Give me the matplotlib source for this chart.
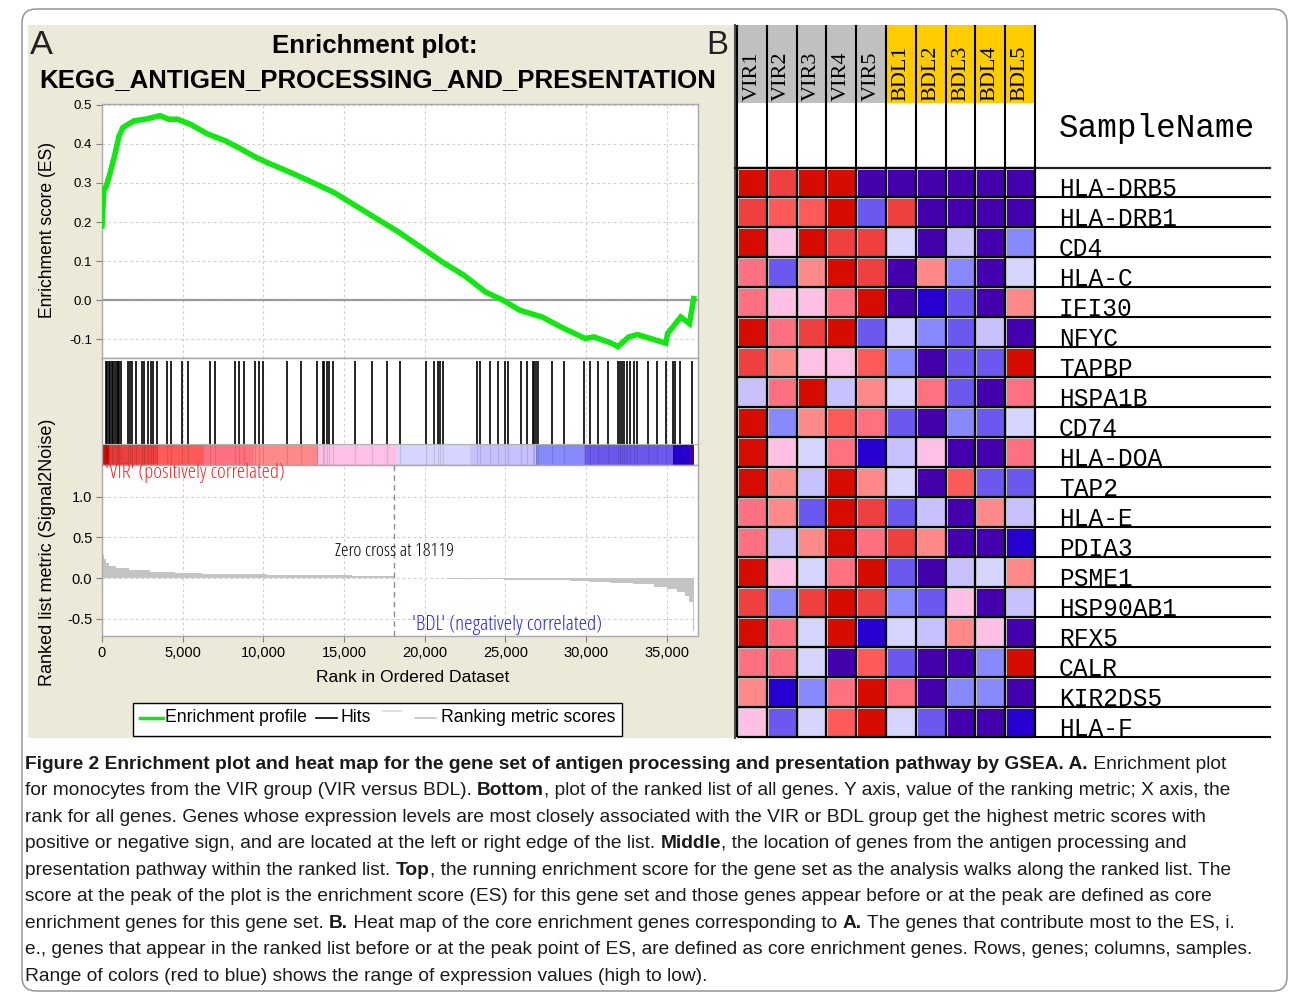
import numpy as np
import matplotlib
matplotlib.use('Agg')
import matplotlib.pyplot as plt
from matplotlib.colors import ListedColormap, BoundaryNorm
from matplotlib.patches import Rectangle, FancyBboxPatch
from matplotlib import font_manager as fm

# ---------------- data ----------------
total_genes = 36661
zero_cross = 18119

es_rank = [0, 120, 248, 514, 781, 1053, 1301, 1983, 2664, 3594, 4139, 4678, 5483, 6563, 7635,
           8428, 9518, 10188, 11669, 13013, 14358, 15703, 17041, 18392, 19736, 21069, 22419,
           23763, 24841, 25899, 27262, 28601, 29945, 30484, 31556, 31959, 32634, 33173, 33979,
           34920, 35050, 35856, 36395, 36661]
es_score = [0.19, 0.285, 0.29, 0.327, 0.37, 0.42, 0.442, 0.459, 0.463, 0.472, 0.463, 0.463, 0.45,
            0.425, 0.408, 0.391, 0.366, 0.353, 0.327, 0.302, 0.276, 0.242, 0.208, 0.174, 0.136,
            0.098, 0.064, 0.021, 0.0, -0.026, -0.043, -0.072, -0.098, -0.094, -0.11, -0.119,
            -0.094, -0.088, -0.098, -0.11, -0.085, -0.043, -0.06, 0.004]

hit_ranks = [248, 328, 415, 496, 601, 700, 806, 911, 973, 1053, 1159, 1592, 1735, 1877, 2107, 2460,
             2621, 2869, 3036, 3179, 3426, 4009, 4257, 4938, 5347, 6692, 7002, 8241, 8507, 8799,
             9480, 9746, 9957, 11444, 12312, 13303, 13675, 13756, 13923, 14084, 14332, 15676,
             16710, 17640, 18464, 20075, 20589, 20837, 20942, 21110, 23253, 23421, 24040, 24555,
             24970, 25174, 25961, 26314, 26686, 26785, 26890, 27033, 27863, 28625, 29883, 30236,
             30750, 31333, 31990, 32095, 32237, 32361, 32510, 32715, 32981, 33130, 33849, 34369,
             34946, 35361, 35503, 35813, 36538]

metric_rank = [0, 100, 250, 450, 850, 1650, 3000, 4500, 6200, 10200, 15500, 18119, 21400, 24900,
               27000, 29000, 30200, 31500, 32900, 34200, 35000, 35600, 36100, 36400, 36600, 36640,
               36661]
metric_val = [0.29, 0.24, 0.19, 0.15, 0.12, 0.10, 0.075, 0.065, 0.05, 0.04, 0.025, 0.0, -0.01,
              -0.02, -0.03, -0.04, -0.05, -0.06, -0.08, -0.11, -0.13, -0.17, -0.22, -0.30, -0.45,
              -0.65, -0.65]

# ranked-list colour bar: start rank of each segment and its level in the palette
bar_start = [0, 450, 3500, 6300, 9400, 13400, 18250, 22800, 26900, 29900, 35400, 36400]
bar_level = [11, 10, 9, 8, 7, 6, 5, 4, 3, 2, 1, 0]

rank_ticks = [0, 5000, 10000, 15000, 20000, 25000, 30000, 35000]
rank_tick_labels = ['0', '5,000', '10,000', '15,000', '20,000', '25,000', '30,000', '35,000']
es_ticks = [-0.1, 0.0, 0.1, 0.2, 0.3, 0.4, 0.5]
es_tick_labels = ['-0.1', '0.0', '0.1', '0.2', '0.3', '0.4', '0.5']
metric_ticks = [-0.5, 0.0, 0.5, 1.0]
metric_tick_labels = ['-0.5', '0.0', '0.5', '1.0']

samples = ['VIR1', 'VIR2', 'VIR3', 'VIR4', 'VIR5', 'BDL1', 'BDL2', 'BDL3', 'BDL4', 'BDL5']
sample_group = ['VIR'] * 5 + ['BDL'] * 5
genes = ['HLA-DRB5', 'HLA-DRB1', 'CD4', 'HLA-C', 'IFI30', 'NFYC', 'TAPBP', 'HSPA1B', 'CD74',
         'HLA-DOA', 'TAP2', 'HLA-E', 'PDIA3', 'PSME1', 'HSP90AB1', 'RFX5', 'CALR', 'KIR2DS5',
         'HLA-F']
# expression level bins (0 = lowest/blue ... 11 = highest/red)
expr_level = [
    [11, 10, 11, 11, 0, 0, 0, 0, 0, 0],
    [10, 9, 9, 11, 2, 10, 0, 0, 0, 0],
    [11, 6, 11, 10, 10, 5, 0, 4, 0, 3],
    [8, 2, 7, 11, 10, 0, 7, 3, 0, 5],
    [8, 6, 6, 8, 11, 0, 1, 2, 0, 7],
    [11, 8, 10, 11, 2, 5, 3, 2, 4, 0],
    [10, 7, 6, 6, 9, 3, 0, 2, 2, 11],
    [4, 8, 11, 4, 7, 5, 8, 2, 0, 8],
    [11, 3, 7, 9, 8, 2, 0, 3, 2, 5],
    [11, 6, 5, 8, 1, 4, 6, 0, 0, 8],
    [11, 7, 4, 11, 7, 5, 0, 9, 2, 2],
    [8, 7, 2, 11, 10, 2, 4, 0, 7, 4],
    [8, 4, 7, 11, 8, 10, 7, 0, 0, 1],
    [11, 6, 5, 8, 11, 2, 0, 4, 5, 7],
    [10, 3, 10, 11, 10, 3, 2, 6, 0, 4],
    [11, 8, 5, 11, 1, 5, 4, 7, 6, 0],
    [8, 8, 5, 0, 9, 2, 0, 0, 3, 11],
    [7, 1, 3, 8, 11, 8, 0, 3, 3, 0],
    [6, 2, 5, 9, 11, 5, 2, 0, 0, 1],
]

palette = ['#4500AD', '#2700D1', '#6B58EF', '#8888FF', '#C7C1FF', '#D5D5FF',
           '#FFC0E5', '#FF8989', '#FF7080', '#FF5A5A', '#EF4040', '#D60C00']
group_color = {'VIR': '#C0C0C0', 'BDL': '#FFCC00'}

caption_lines = [
    [("Figure 2 Enrichment plot and heat map for the gene set of antigen processing and presentation pathway by GSEA. A.", True),
     (" Enrichment plot", False)],
    [("for monocytes from the VIR group (VIR versus BDL). ", False), ("Bottom", True),
     (", plot of the ranked list of all genes. Y axis, value of the ranking metric; X axis, the", False)],
    [("rank for all genes. Genes whose expression levels are most closely associated with the VIR or BDL group get the highest metric scores with", False)],
    [("positive or negative sign, and are located at the left or right edge of the list. ", False), ("Middle", True),
     (", the location of genes from the antigen processing and", False)],
    [("presentation pathway within the ranked list. ", False), ("Top", True),
     (", the running enrichment score for the gene set as the analysis walks along the ranked list. The", False)],
    [("score at the peak of the plot is the enrichment score (ES) for this gene set and those genes appear before or at the peak are defined as core", False)],
    [("enrichment genes for this gene set. ", False), ("B.", True),
     (" Heat map of the core enrichment genes corresponding to ", False), ("A.", True),
     (" The genes that contribute most to the ES, i.", False)],
    [("e., genes that appear in the ranked list before or at the peak point of ES, are defined as core enrichment genes. Rows, genes; columns, samples.", False)],
    [("Range of colors (red to blue) shows the range of expression values (high to low).", False)],
]
caption_line_end = [1265, 1265, 1231, 1230, 1259, 1258, 1220, 1262, None]

# ---------------- figure ----------------
plt.rcParams['font.family'] = ['Liberation Sans', 'DejaVu Sans']
W, H = 1290, 994
fig = plt.figure(figsize=(W / 100, H / 100), dpi=100)
renderer = fig.canvas.get_renderer()

bg = fig.add_axes([0, 0, 1, 1])
bg.set_xlim(0, W)
bg.set_ylim(H, 0)
bg.axis('off')


def fbox(x0, y0, x1, y1):
    return [x0 / W, 1 - y1 / H, (x1 - x0) / W, (y1 - y0) / H]


def fit(t, target, dim='w'):
    bb = t.get_window_extent(renderer)
    cur = bb.width if dim == 'w' else bb.height
    t.set_fontsize(t.get_fontsize() * target / cur)
    return t.get_fontsize()


def run_width(s, **kw):
    a = bg.text(0, 0, '|' + s + '|', **kw)
    w1 = a.get_window_extent(renderer).width
    a.remove()
    b = bg.text(0, 0, '||', **kw)
    w0 = b.get_window_extent(renderer).width
    b.remove()
    return w1 - w0


# condensed sans for small in-plot annotations, if one is installed
probe = 'Zero cross at 18119'
NARROW = dict(family='Liberation Sans')
for cand in (dict(family='Liberation Sans Narrow'), dict(family='Noto Sans', stretch='condensed'),
             dict(family='Open Sans', stretch='condensed'), dict(family='Roboto', stretch='condensed')):
    try:
        fm.findfont(fm.FontProperties(**cand), fallback_to_default=False)
    except Exception:
        continue
    if run_width(probe, fontsize=12, **cand) < 0.93 * run_width(probe, fontsize=12, family='Liberation Sans'):
        NARROW = cand
        break

# panel backgrounds / frame
bg.add_patch(Rectangle((28, 25), 707, 713, fc='#ECE9D8', ec='none'))
bg.add_patch(FancyBboxPatch((22, 9), 1265, 982, boxstyle='round,pad=0,rounding_size=14',
                            fc='none', ec='#8A8A8A', lw=1))
bg.plot([735, 735], [25, 738], color='#505050', lw=1.5)

# ---------------- panel A ----------------
X0, X1 = 102, 698
xmax = (X1 - X0) * 5000 / 80.7

ax1 = fig.add_axes(fbox(X0, 104, X1, 358))
ax2 = fig.add_axes(fbox(X0, 358, X1, 465))
ax3 = fig.add_axes(fbox(X0, 465, X1, 636))

grid_kw = dict(color='#CFCFCF', lw=0.8, ls=(0, (2.5, 2.5)))
for ax in (ax1, ax2, ax3):
    ax.set_xlim(0, xmax)
    ax.set_xticks(rank_ticks)
    for s in ax.spines.values():
        s.set_color('#A8A8A8')
        s.set_linewidth(1)
    ax.set_axisbelow(True)

# ES curve
ax1.set_ylim(-0.148, 0.502)
ax1.set_yticks(es_ticks)
ax1.set_yticklabels(es_tick_labels)
ax1.grid(True, **grid_kw)
ax1.axhline(0, color='#9A9A9A', lw=1.6)
ax1.plot(es_rank, es_score, color='#14E614', lw=4.0, solid_joinstyle='miter', zorder=5)
ax1.tick_params(axis='x', length=0, labelbottom=False)
ax1.tick_params(axis='y', length=4, color='#808080', labelsize=9.5, pad=3)

# hits + colour bar
ax2.set_ylim(0, 1)
ax2.set_yticks([])
ax2.grid(True, axis='x', **grid_kw)
ax2.tick_params(axis='x', length=0, labelbottom=False)
bar_ends = bar_start[1:] + [total_genes]
for s0, s1, lv in zip(bar_start, bar_ends, bar_level):
    ax2.bar(s0, 0.193, width=s1 - s0, bottom=0, align='edge', color=palette[lv], lw=0, zorder=2)
ax2.vlines(hit_ranks, 0.2, 0.975, color='black', lw=1.2, zorder=3)
ax2.vlines(hit_ranks, 0.0, 0.193, color='black', lw=0.8, alpha=0.12, zorder=3)
ax2.axhline(0.196, color='#B0B0B0', lw=0.8, zorder=3)

# ranked list metric
ax3.set_ylim(-0.716, 1.395)
ax3.set_yticks(metric_ticks)
ax3.set_yticklabels(metric_tick_labels)
ax3.set_xticklabels(rank_tick_labels)
ax3.grid(True, **grid_kw)
ax3.fill_between(metric_rank, metric_val, 0, step='post', color='#C4C4C4', lw=0, zorder=2)
ax3.axvline(zero_cross, color='#8C8C8C', lw=1, ls=(0, (4, 3)), zorder=3)
ax3.tick_params(axis='both', length=4, color='#808080', labelsize=10.5, pad=3)
t = ax3.text(zero_cross, 0.333, 'Zero cross at 18119', ha='center', va='center',
             fontsize=9, **NARROW)
fit(t, 120)
t = ax3.text(190, 1.30, "'VIR' (positively correlated)", ha='left', va='center',
             fontsize=9, color='#F02828', **NARROW)
fit(t, 181)
t = ax3.text((412 - X0) * 5000 / 80.7, -0.58, "'BDL' (negatively correlated)", ha='left',
             va='center', fontsize=9, color='#2424E0', **NARROW)
fit(t, 191)

# titles / labels of panel A
t = bg.text(30, 54, 'A', fontsize=26, va='baseline', ha='left', color='#222222')
fit(t, 23)
t = bg.text(706, 54, 'B', fontsize=26, va='baseline', ha='left', color='#222222')
fit(t, 22)
t = bg.text(375, 53, 'Enrichment plot:', fontsize=18, weight='bold',
            ha='center', va='baseline')
fit(t, 206)
t = bg.text(377.5, 87, 'KEGG_ANTIGEN_PROCESSING_AND_PRESENTATION', fontsize=18, weight='bold',
            ha='center', va='baseline')
fit(t, 675)
t = bg.text(48, 230, 'Enrichment score (ES)', rotation=90, ha='center', va='center', fontsize=11)
fit(t, 176, 'h')
t = bg.text(48, 552, 'Ranked list metric (Signal2Noise)', rotation=90, ha='center', va='center',
            fontsize=11)
fit(t, 265, 'h')
t = bg.text(413, 677, 'Rank in Ordered Dataset', ha='center', va='center', fontsize=12)
fit(t, 194)

# legend
bg.add_patch(Rectangle((133, 703), 489, 33, fc='white', ec='black', lw=1))
t = bg.text(165, 718, 'Enrichment profile', va='center', ha='left', fontsize=12)
lsz = fit(t, 142)
bg.plot([140, 163], [718, 718], color='#14E614', lw=2.5)
bg.plot([316, 337], [718, 718], color='black', lw=1.2)
bg.text(341, 718, 'Hits', va='center', ha='left', fontsize=lsz)
bg.plot([383, 401], [711, 711], color='#D8D8D8', lw=1.2)
bg.plot([415, 436], [718, 718], color='#C4C4C4', lw=1.2)
bg.text(441, 718, 'Ranking metric scores', va='center', ha='left', fontsize=lsz)

# ---------------- panel B ----------------
HX0, HX1 = 737, 1035
HY0, HY1 = 167.5, 736.5
nrow, ncol = len(genes), len(samples)
row_h = (HY1 - HY0) / nrow

axh = fig.add_axes(fbox(HX0, HY0, HX1, HY1))
cmap = ListedColormap(palette)
norm = BoundaryNorm(np.arange(-0.5, len(palette) + 0.5), len(palette))
axh.pcolormesh(np.array(expr_level), cmap=cmap, norm=norm, edgecolors='#D4D4D4', linewidth=2.0)
axh.set_xlim(0, ncol)
axh.set_ylim(nrow, 0)
axh.vlines(np.arange(ncol + 1), 0, nrow, color='black', lw=1.6, clip_on=False)
axh.hlines(np.arange(nrow + 1), 0, ncol, color='black', lw=1.6, clip_on=False)
axh.axis('off')

# column header
axc = fig.add_axes(fbox(HX0, 25, HX1, HY0))
axc.set_xlim(0, ncol)
axc.set_ylim(1, 0)
axc.axis('off')
hdr_h = (103 - 25) / (HY0 - 25)
for i, (s, g) in enumerate(zip(samples, sample_group)):
    axc.add_patch(Rectangle((i, 0), 1, hdr_h, fc=group_color[g], ec='none'))
    axc.text(i + 0.5, (101 - 25) / (HY0 - 25), s, rotation=90, ha='center', va='bottom',
             family='Liberation Serif', fontsize=16)
axc.vlines(np.arange(ncol + 1), 0, 1, color='black', lw=1.5, clip_on=False)

bg.plot([735, 1270], [HY0, HY0], color='#202020', lw=1.6)
t = bg.text(1059, 137, 'SampleName', family='Liberation Mono', fontsize=23, va='baseline',
            ha='left')
fit(t, 197)
gsz = None
for r, g in enumerate(genes):
    yb = HY0 + (r + 1) * row_h
    bg.plot([HX1, 1270], [yb, yb], color='black', lw=1.5)
    t = bg.text(1059, yb - 1, g, family='Liberation Mono', fontsize=17.5, va='baseline',
                ha='left')
    if gsz is None:
        gsz = fit(t, 117)
    else:
        t.set_fontsize(gsz)

# ---------------- caption ----------------
X_CAP = 25
CAPF = dict(family='Liberation Sans')
sizes = []
for line, end in zip(caption_lines, caption_line_end):
    if end is None:
        continue
    w = sum(run_width(s, fontsize=12, weight='bold' if b else 'normal', **CAPF) for s, b in line)
    sizes.append(12 * (end - X_CAP) / w)
csz = min(float(np.median(sizes)), min(sizes) * 1.015)
y = 769
for line in caption_lines:
    x = X_CAP
    for s, bold in line:
        kw = dict(fontsize=csz, weight='bold' if bold else 'normal', **CAPF)
        bg.text(x, y, s, va='baseline', ha='left', color='#1A1A1A', **kw)
        x += run_width(s, **kw)
    y += 26.45

fig.savefig('out.png', dpi=100)
